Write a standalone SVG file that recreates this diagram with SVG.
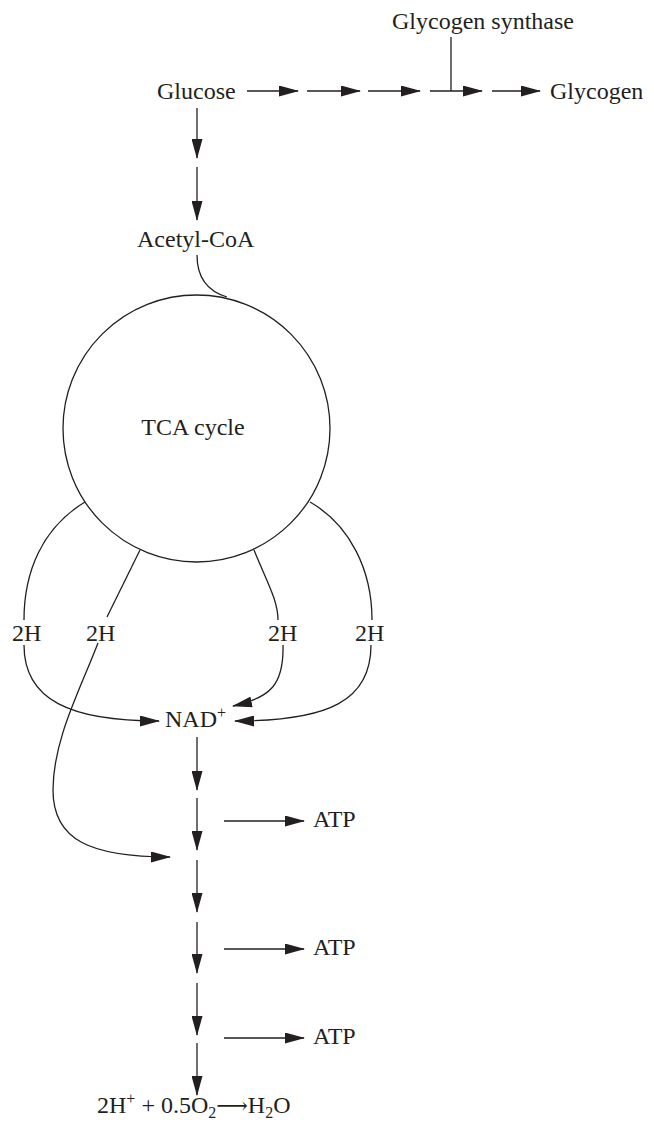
<svg xmlns="http://www.w3.org/2000/svg" width="654" height="1127" viewBox="0 0 654 1127">
<defs>
<marker id="ah" markerUnits="userSpaceOnUse" markerWidth="20" markerHeight="11" viewBox="0 0 20 11" refX="19" refY="5.5" orient="auto">
<path d="M0,0 L20,5.5 L0,11 Z" fill="#231f20"/>
</marker>
<style>
text{font-family:"Liberation Serif","Times New Roman",serif;font-size:24px;fill:#231f20}
.ln{fill:none;stroke:#231f20;stroke-width:1.3}
.ar{fill:none;stroke:#231f20;stroke-width:1.3;marker-end:url(#ah)}
.la{font-family:"DejaVu Serif","DejaVu Sans",serif;font-size:22px}
</style>
</defs>
<rect width="654" height="1127" fill="#fff"/>
<g id="connectors">
<line class="ar" x1="247" y1="91" x2="298" y2="91"/>
<line class="ar" x1="307" y1="91" x2="360" y2="91"/>
<line class="ar" x1="368" y1="91" x2="420" y2="91"/>
<line class="ar" x1="430" y1="91" x2="482" y2="91"/>
<line class="ar" x1="492" y1="91" x2="540" y2="91"/>
<line class="ln" x1="451" y1="37" x2="451" y2="91"/>
<line class="ar" x1="197" y1="108" x2="197" y2="158"/>
<line class="ar" x1="197" y1="167" x2="197" y2="220"/>
<path class="ln" d="M197,255 C197,280 210,292 227,297"/>
<path class="ln" d="M85,502 C42,528 24,572 24,620"/>
<path class="ar" d="M24,645 C24,700 70,721 159,721"/>
<path class="ln" d="M140,550 L107,617"/>
<path class="ar" d="M98,643 C80,690 53,740 53,790 C53,840 90,857 170,857"/>
<path class="ln" d="M254,550 C266,580 278,600 278,620"/>
<path class="ar" d="M283,645 C284,685 270,698 233,706"/>
<path class="ln" d="M310,502 C350,525 372,570 372,620"/>
<path class="ar" d="M371,645 C371,700 330,721 235,721"/>
<line class="ar" x1="197" y1="737" x2="197" y2="790"/>
<line class="ar" x1="197" y1="798" x2="197" y2="850"/>
<line class="ar" x1="197" y1="860" x2="197" y2="912"/>
<line class="ar" x1="197" y1="922" x2="197" y2="973"/>
<line class="ar" x1="197" y1="983" x2="197" y2="1035"/>
<line class="ar" x1="197" y1="1043" x2="197" y2="1095"/>
<line class="ar" x1="224" y1="821" x2="304" y2="821"/>
<line class="ar" x1="224" y1="949" x2="304" y2="949"/>
<line class="ar" x1="224" y1="1038" x2="304" y2="1038"/>
</g>
<g id="glucose"><text x="157" y="99">Glucose</text></g>
<g id="glycogen"><text x="550" y="99">Glycogen</text></g>
<g id="glycogen-synthase"><text x="392" y="29">Glycogen synthase</text></g>
<g id="acetyl-coa"><text x="137" y="247">Acetyl-CoA</text></g>
<g id="tca-cycle">
<circle cx="196.5" cy="428.5" r="133.5" fill="none" stroke="#231f20" stroke-width="1.3"/>
<text x="193" y="435" text-anchor="middle">TCA cycle</text>
</g>
<g id="h2-1"><text x="12" y="641">2H</text></g>
<g id="h2-2"><text x="86" y="641">2H</text></g>
<g id="h2-3"><text x="268" y="641">2H</text></g>
<g id="h2-4"><text x="355" y="641">2H</text></g>
<g id="nad"><text x="165" y="727">NAD<tspan dy="-9" font-size="16">+</tspan></text></g>
<g id="atp-1"><text x="313" y="827">ATP</text></g>
<g id="atp-2"><text x="313" y="955">ATP</text></g>
<g id="atp-3"><text x="313" y="1044">ATP</text></g>
<g id="water"><text x="97" y="1113">2H<tspan dy="-9" font-size="16">+</tspan><tspan dy="9"> + 0.5O</tspan><tspan dy="5" font-size="16">2</tspan><tspan dy="-5" class="la">⟶</tspan>H<tspan dy="5" font-size="16">2</tspan><tspan dy="-5">O</tspan></text></g>
</svg>
